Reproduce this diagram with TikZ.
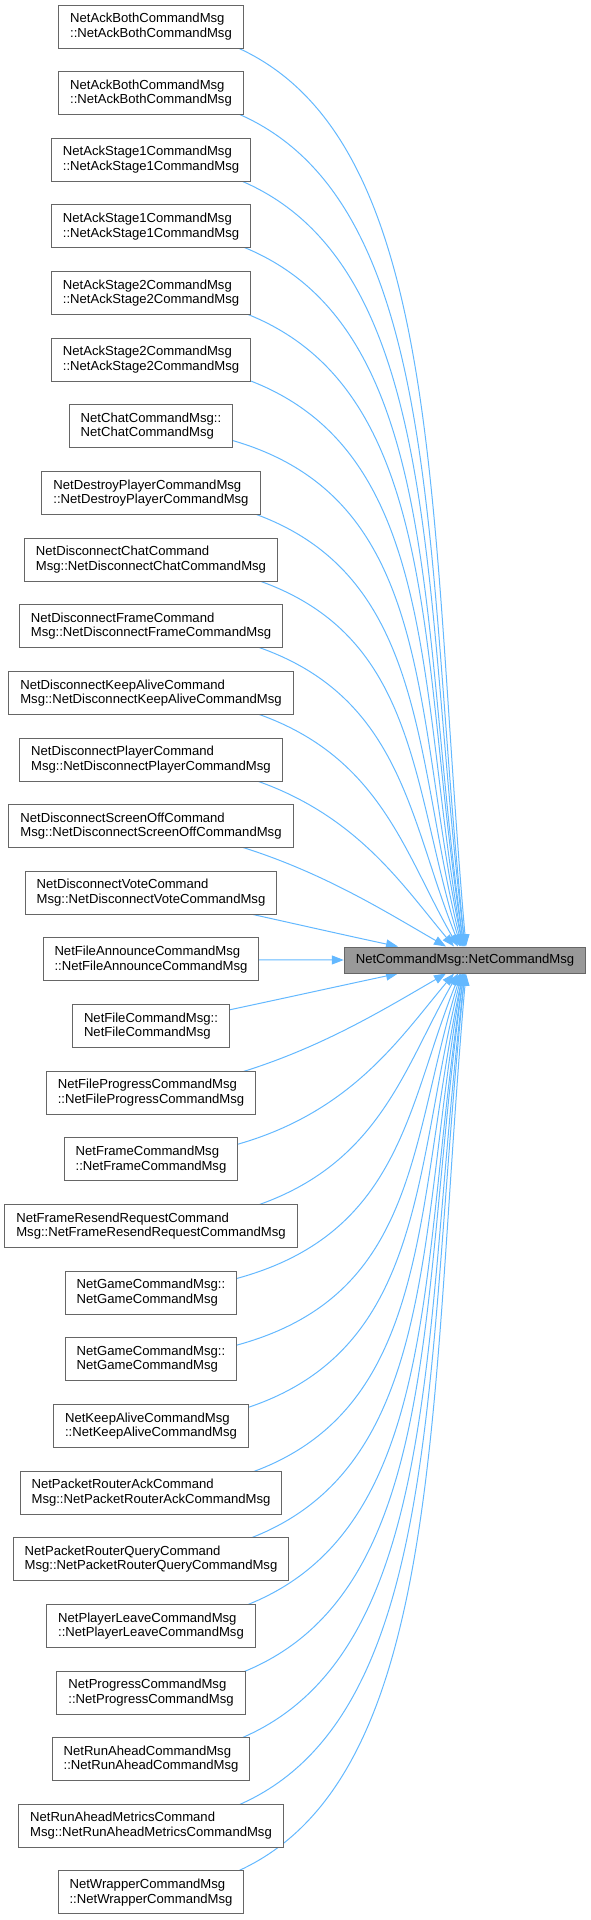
\documentclass[tikz,border=0pt]{standalone}
\usepackage{fontspec}
\setmainfont{Liberation Sans}
\usetikzlibrary{arrows.meta,backgrounds}

\definecolor{callblue}{HTML}{63B8FF}
\definecolor{boxline}{HTML}{666666}
\definecolor{mainfill}{HTML}{999999}

\tikzset{
  fnbox/.style={draw=boxline, fill=white, line width=1pt, align=left,
    inner xsep=11.5pt, inner ysep=0pt, minimum height=43pt,
    font=\fontsize{13.1}{14.5}\selectfont},
  mainbox/.style={fnbox, fill=mainfill, minimum height=26pt},
  callarrow/.style={draw=callblue, line width=1pt, -{Triangle[length=12pt,width=9pt]}}
}

\begin{document}
\begin{tikzpicture}[x=1pt,y=1pt]
  \useasboundingbox (0,0) rectangle (591,-1920);

  \node[mainbox] (cmd) at (465,-960) {NetCommandMsg::NetCommandMsg};

  % callers, one per row
  \foreach \i/\txt in {
    1/{NetAckBothCommandMsg\\::NetAckBothCommandMsg},
    2/{NetAckBothCommandMsg\\::NetAckBothCommandMsg},
    3/{NetAckStage1CommandMsg\\::NetAckStage1CommandMsg},
    4/{NetAckStage1CommandMsg\\::NetAckStage1CommandMsg},
    5/{NetAckStage2CommandMsg\\::NetAckStage2CommandMsg},
    6/{NetAckStage2CommandMsg\\::NetAckStage2CommandMsg},
    7/{NetChatCommandMsg::\\NetChatCommandMsg},
    8/{NetDestroyPlayerCommandMsg\\::NetDestroyPlayerCommandMsg},
    9/{NetDisconnectChatCommand\\Msg::NetDisconnectChatCommandMsg},
    10/{NetDisconnectFrameCommand\\Msg::NetDisconnectFrameCommandMsg},
    11/{NetDisconnectKeepAliveCommand\\Msg::NetDisconnectKeepAliveCommandMsg},
    12/{NetDisconnectPlayerCommand\\Msg::NetDisconnectPlayerCommandMsg},
    13/{NetDisconnectScreenOffCommand\\Msg::NetDisconnectScreenOffCommandMsg},
    14/{NetDisconnectVoteCommand\\Msg::NetDisconnectVoteCommandMsg},
    15/{NetFileAnnounceCommandMsg\\::NetFileAnnounceCommandMsg},
    16/{NetFileCommandMsg::\\NetFileCommandMsg},
    17/{NetFileProgressCommandMsg\\::NetFileProgressCommandMsg},
    18/{NetFrameCommandMsg\\::NetFrameCommandMsg},
    19/{NetFrameResendRequestCommand\\Msg::NetFrameResendRequestCommandMsg},
    20/{NetGameCommandMsg::\\NetGameCommandMsg},
    21/{NetGameCommandMsg::\\NetGameCommandMsg},
    22/{NetKeepAliveCommandMsg\\::NetKeepAliveCommandMsg},
    23/{NetPacketRouterAckCommand\\Msg::NetPacketRouterAckCommandMsg},
    24/{NetPacketRouterQueryCommand\\Msg::NetPacketRouterQueryCommandMsg},
    25/{NetPlayerLeaveCommandMsg\\::NetPlayerLeaveCommandMsg},
    26/{NetProgressCommandMsg\\::NetProgressCommandMsg},
    27/{NetRunAheadCommandMsg\\::NetRunAheadCommandMsg},
    28/{NetRunAheadMetricsCommand\\Msg::NetRunAheadMetricsCommandMsg},
    29/{NetWrapperCommandMsg\\::NetWrapperCommandMsg}}{
    \node[fnbox] (caller\i) at (151,{-26.5-66.64*(\i-1)}) {\txt};
  }

  \begin{pgfonlayer}{background}
    \draw[callarrow] (caller15.center) -- (cmd.west);
    % k = rows away from the middle; same curve above and below
    \foreach \k/\tipdx/\inang/\outlen/\outslope/\inlen in {
      1/-67/12/80/0.2/80, 2/-19/30/130/0.15/90, 3/-11/50/180/0.08/100,
      4/-7/60/220/0.08/130, 5/-5/68/250/0.08/160, 6/-4/73/270/0.08/200,
      7/-3/76/280/0.08/230, 8/-2/78/290/0.08/270, 9/-2/80/295/0.08/300,
      10/-1/81/300/0.08/330, 11/-1/82/300/0.08/370, 12/0/83/300/0.08/400,
      13/0/84/300/0.08/440, 14/1/85/300/0.08/480}{
      \pgfmathtruncatemacro\up{15-\k}
      \pgfmathtruncatemacro\dn{15+\k}
      \draw[callarrow] (caller\up.center)
        .. controls +(\outlen,{-\outlen*\outslope}) and +({-\inlen*cos(\inang)},{\inlen*sin(\inang)})
        .. ([xshift=\tipdx pt]cmd.north);
      \draw[callarrow] (caller\dn.center)
        .. controls +(\outlen,{\outlen*\outslope}) and +({-\inlen*cos(\inang)},{-\inlen*sin(\inang)})
        .. ([xshift=\tipdx pt]cmd.south);
    }
  \end{pgfonlayer}
\end{tikzpicture}
\end{document}
